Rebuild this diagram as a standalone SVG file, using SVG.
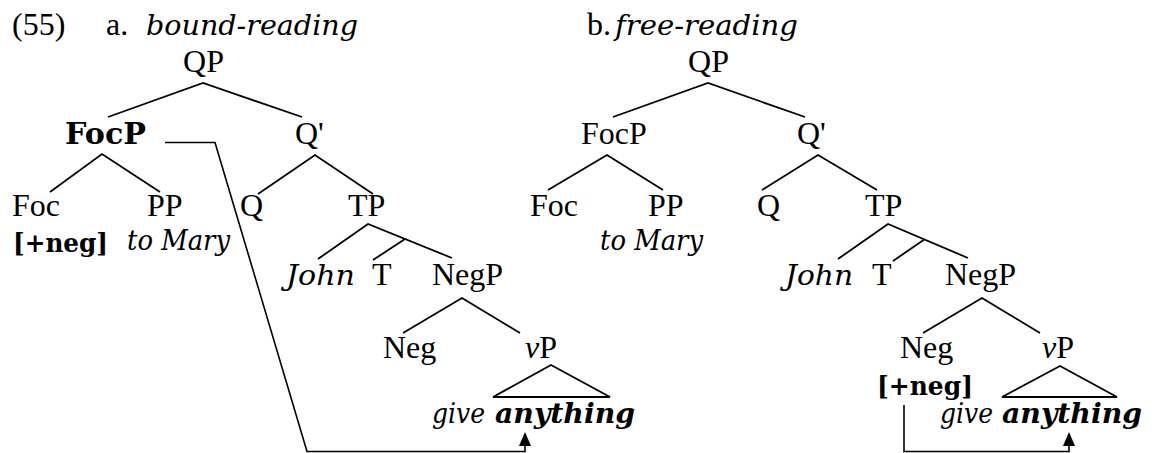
<svg xmlns="http://www.w3.org/2000/svg" width="1155" height="453" viewBox="0 0 1155 453">
<style>
text{fill:#000;}
.t{font-family:"Liberation Serif","Times New Roman",serif;font-size:32px;}
.g{font-family:"DejaVu Serif",serif;font-size:27px;font-style:italic;}
.gb{font-family:"DejaVu Serif",serif;font-size:29px;font-weight:bold;}
.gbi{font-family:"DejaVu Serif",serif;font-size:28px;font-weight:bold;font-style:italic;}
.ln{stroke:#000;stroke-width:1.8;fill:none;}
.con{stroke:#000;stroke-width:1.6;fill:none;}
</style>
<defs>
<marker id="ah" viewBox="0 0 14 12" refX="8" refY="6" markerWidth="14" markerHeight="12" markerUnits="userSpaceOnUse" orient="auto">
<path d="M0,0 L14,6 L0,12 z" fill="#000"/>
</marker>
</defs>

<g id="labels">
<text class="t" x="12" y="35">(55)</text>
<text class="t" x="106" y="35">a.</text>
<text class="g" x="146" y="35" textLength="212" lengthAdjust="spacingAndGlyphs">bound-reading</text>
<text class="t" x="587" y="35">b.</text>
<text class="g" x="615" y="35" textLength="183" lengthAdjust="spacingAndGlyphs">free-reading</text>
</g>

<g id="treeA">
<g id="a-QP"><text class="t" x="203.5" y="72" text-anchor="middle">QP</text></g>
<g id="a-FocP"><text class="gb" x="65" y="144" textLength="81" lengthAdjust="spacingAndGlyphs">FocP</text></g>
<g id="a-Qbar"><text class="t" x="295" y="144">Q'</text></g>
<g id="a-Foc"><text class="t" x="12" y="216">Foc</text><text class="gb" x="13" y="252" style="font-size:26px" textLength="95" lengthAdjust="spacingAndGlyphs">[+neg]</text></g>
<g id="a-PP"><text class="t" x="147" y="216">PP</text><text class="g" x="127" y="250" textLength="103" lengthAdjust="spacingAndGlyphs">to Mary</text></g>
<g id="a-Q"><text class="t" x="240" y="216">Q</text></g>
<g id="a-TP"><text class="t" x="348" y="216">TP</text></g>
<g id="a-John"><text class="g" x="286" y="285" textLength="69" lengthAdjust="spacingAndGlyphs">John</text></g>
<g id="a-T"><text class="t" x="372" y="285">T</text></g>
<g id="a-NegP"><text class="t" x="432" y="285">NegP</text></g>
<g id="a-Neg"><text class="t" x="383" y="358">Neg</text></g>
<g id="a-vP"><text class="t" x="525" y="358"><tspan font-style="italic">v</tspan>P</text></g>
<g id="a-give"><text class="g" x="432" y="423" textLength="53" lengthAdjust="spacingAndGlyphs">give</text><text class="gbi" x="495" y="423" textLength="140" lengthAdjust="spacingAndGlyphs">anything</text></g>
</g>

<g id="treeB">
<g id="b-QP"><text class="t" x="708.5" y="72" text-anchor="middle">QP</text></g>
<g id="b-FocP"><text class="t" x="581" y="144">FocP</text></g>
<g id="b-Qbar"><text class="t" x="797" y="144">Q'</text></g>
<g id="b-Foc"><text class="t" x="530" y="216">Foc</text></g>
<g id="b-PP"><text class="t" x="648" y="216">PP</text><text class="g" x="600" y="250" textLength="103" lengthAdjust="spacingAndGlyphs">to Mary</text></g>
<g id="b-Q"><text class="t" x="757" y="216">Q</text></g>
<g id="b-TP"><text class="t" x="865" y="216">TP</text></g>
<g id="b-John"><text class="g" x="785" y="285" textLength="68" lengthAdjust="spacingAndGlyphs">John</text></g>
<g id="b-T"><text class="t" x="872" y="285">T</text></g>
<g id="b-NegP"><text class="t" x="945" y="285">NegP</text></g>
<g id="b-Neg"><text class="t" x="900" y="358">Neg</text><text class="gb" x="877" y="395" style="font-size:26px" textLength="96" lengthAdjust="spacingAndGlyphs">[+neg]</text></g>
<g id="b-vP"><text class="t" x="1042" y="358"><tspan font-style="italic">v</tspan>P</text></g>
<g id="b-give"><text class="g" x="940" y="423" textLength="53" lengthAdjust="spacingAndGlyphs">give</text><text class="gbi" x="1002" y="423" textLength="140" lengthAdjust="spacingAndGlyphs">anything</text></g>
</g>

<g id="connectors">
<g id="branchesA">
<path class="ln" d="M108,117 L203,83 L302,117"/>
<path class="ln" d="M50,192 L102,154 L160,192"/>
<path class="ln" d="M258,194 L315,155 L373,194"/>
<path class="ln" d="M318,259 L368,224 L452,258 M405,239 L373,260"/>
<path class="ln" d="M403,333 L462,298 L520,333"/>
<path class="ln" d="M551,365 L493,397 L610,397 Z"/>
</g>
<g id="branchesB">
<path class="ln" d="M613,117 L708,83 L805,117"/>
<path class="ln" d="M548,190 L607,155 L663,190"/>
<path class="ln" d="M762,190 L818,155 L877,190"/>
<path class="ln" d="M838,259 L888,224 L968,258 M925,239 L893,261"/>
<path class="ln" d="M923,333 L982,298 L1040,333"/>
<path class="ln" d="M1060,366 L1002,397 L1117,397 Z"/>
</g>
<path id="arrowA" class="con" d="M165,142.5 L215,142.5 L307,451.5 L525,451.5 L525,438" marker-end="url(#ah)"/>
<path id="arrowB" class="con" d="M904,405 L904,451.5 L1069,451.5 L1069,438" marker-end="url(#ah)"/>
</g>
</svg>
